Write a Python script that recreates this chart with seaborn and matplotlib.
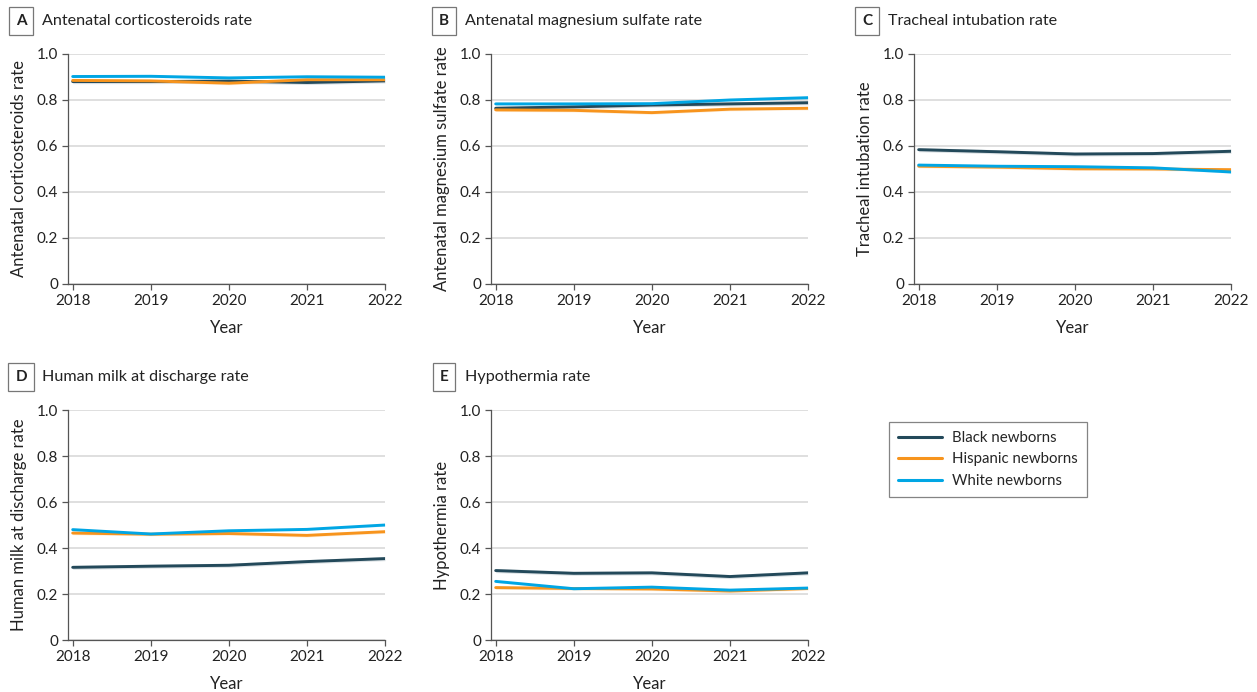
import numpy as np
import pandas as pd
import matplotlib.pyplot as plt
import seaborn as sns

years = [2018, 2019, 2020, 2021, 2022]
groups = ["Black newborns", "Hispanic newborns", "White newborns"]
colors = ["#23495a", "#f7941d", "#00a6e4"]

panels = ["A", "B", "C", "D", "E"]
titles = [
    "Antenatal corticosteroids rate",
    "Antenatal magnesium sulfate rate",
    "Tracheal intubation rate",
    "Human milk at discharge rate",
    "Hypothermia rate",
]

# rates per panel: black, hispanic, white
steroids_black = [0.880, 0.880, 0.882, 0.876, 0.883]
steroids_hisp = [0.885, 0.883, 0.873, 0.888, 0.888]
steroids_white = [0.902, 0.903, 0.896, 0.901, 0.899]

magnesium_black = [0.764, 0.770, 0.778, 0.783, 0.788]
magnesium_hisp = [0.757, 0.755, 0.745, 0.760, 0.764]
magnesium_white = [0.783, 0.783, 0.784, 0.800, 0.810]

intubation_black = [0.584, 0.575, 0.565, 0.567, 0.577]
intubation_hisp = [0.512, 0.508, 0.501, 0.500, 0.497]
intubation_white = [0.517, 0.512, 0.510, 0.505, 0.487]

milk_black = [0.316, 0.321, 0.325, 0.341, 0.354]
milk_hisp = [0.465, 0.460, 0.463, 0.455, 0.471]
milk_white = [0.480, 0.461, 0.475, 0.481, 0.500]

hypo_black = [0.302, 0.290, 0.292, 0.276, 0.292]
hypo_hisp = [0.228, 0.224, 0.222, 0.213, 0.224]
hypo_white = [0.255, 0.223, 0.230, 0.217, 0.226]

# approximate 95% CI half-widths (shaded bands)
ci_black = [0.009, 0.009, 0.009, 0.009, 0.009]
ci_hisp = [0.007, 0.007, 0.007, 0.007, 0.007]
ci_white = [0.005, 0.005, 0.005, 0.005, 0.005]

series = [
    (steroids_black, steroids_hisp, steroids_white),
    (magnesium_black, magnesium_hisp, magnesium_white),
    (intubation_black, intubation_hisp, intubation_white),
    (milk_black, milk_hisp, milk_white),
    (hypo_black, hypo_hisp, hypo_white),
]
cis = (ci_black, ci_hisp, ci_white)

sns.set_theme(style="white")
plt.rcParams['font.family'] = ['Lato', 'DejaVu Sans']

fig = plt.figure(figsize=(12.57, 6.92), dpi=100)
lefts = [0.0541, 0.3906, 0.7271]
bottoms = [0.5896, 0.0751]
w, h = 0.2522, 0.3324

palette = dict(zip(groups, colors))
for i, (letter, title, vals) in enumerate(zip(panels, titles, series)):
    ax = fig.add_axes([lefts[i % 3], bottoms[i // 3], w, h])
    df = pd.DataFrame({
        "Year": years * 3,
        "rate": np.concatenate(vals),
        "group": np.repeat(groups, len(years)),
    })
    for g, ci in zip(groups, cis):
        sub = df[df.group == g]
        ax.fill_between(sub.Year, sub.rate - np.array(ci), sub.rate + np.array(ci),
                        color=palette[g], alpha=0.15, lw=0)
    sns.lineplot(data=df, x="Year", y="rate", hue="group", palette=palette,
                 lw=2.1, ax=ax, legend=False)
    ax.set_xlim(2017.94, 2022)
    ax.set_ylim(0, 1.0)
    ax.set_xticks(years)
    ax.set_xticklabels([str(y) for y in years])
    ax.set_yticks([0, 0.2, 0.4, 0.6, 0.8, 1.0])
    ax.set_yticklabels(["0", "0.2", "0.4", "0.6", "0.8", "1.0"])
    ax.yaxis.grid(True, color="#d9d9d9", lw=1.2)
    ax.set_axisbelow(True)
    for s in ["top", "right"]:
        ax.spines[s].set_visible(False)
    for s in ["left", "bottom"]:
        ax.spines[s].set_color("#555555")
        ax.spines[s].set_linewidth(0.9)
    ax.tick_params(axis="both", length=4, width=0.9, color="#555555",
                   labelsize=11, labelcolor="#222222", pad=3, bottom=True, left=True)
    ax.set_xlabel("Year", fontsize=12, color="#222222", labelpad=9)
    ax.set_ylabel(title, fontsize=12, color="#222222", labelpad=7)
    ax.text(-0.148, 1.143, letter, transform=ax.transAxes, fontsize=11, fontweight="bold",
            ha="center", va="center", color="#222222",
            bbox=dict(boxstyle="square,pad=0.45", fc="white", ec="#777777", lw=0.9))
    ax.text(-0.082, 1.143, title, transform=ax.transAxes, fontsize=11.6,
            ha="left", va="center", color="#222222")

# legend
handles = [plt.Line2D([], [], color=c, lw=2.2) for c in colors]
leg = fig.legend(handles, groups, loc="upper left", bbox_to_anchor=(889 / 1257, 1 - 422 / 692),
                 frameon=True, fancybox=False, fontsize=10.8, handlelength=2.9,
                 borderpad=0.6, labelspacing=0.5, handletextpad=0.7, borderaxespad=0)
leg.get_frame().set_edgecolor("#666666")
leg.get_frame().set_linewidth(0.9)

fig.savefig("out.png", dpi=100)
